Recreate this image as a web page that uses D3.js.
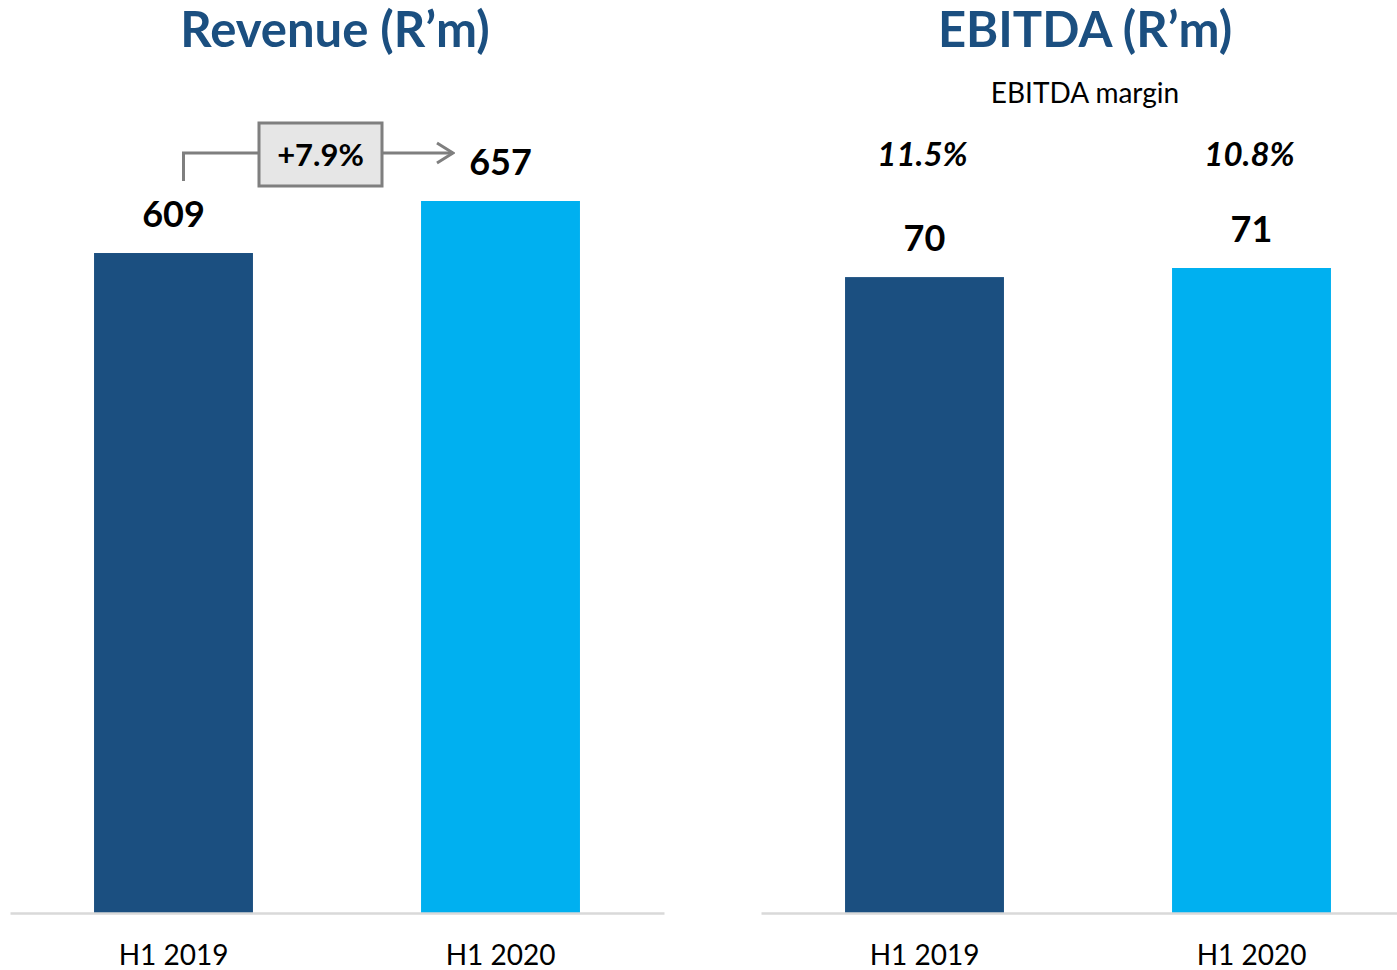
<!DOCTYPE html>
<html>
<head>
<meta charset="utf-8">
<script src="https://cdn.jsdelivr.net/npm/d3@7"></script>
<style>
  body { margin: 0; background: #fff; }
  text { font-family: Lato, "Open Sans", sans-serif; }
</style>
</head>
<body>
<div id="chart"></div>
<script>
// data
var periods = ["H1 2019", "H1 2020"];
var revenue = [609, 657];
var ebitda = [70, 71];
var ebitdaMargin = ["11.5%", "10.8%"];
var revenueGrowth = "+7.9%";
var barColors = ["#1b4f80", "#00b0f0"];

var svgWidth = 1397;
var svgHeight = 970;
var baseY = 913;

var svg = d3.select("#chart")
    .append("svg")
    .attr("width", svgWidth)
    .attr("height", svgHeight);

// arrow marker for growth annotation
svg.append("defs").append("marker")
    .attr("id", "arrow")
    .attr("viewBox", "0 0 20 24")
    .attr("refX", 18)
    .attr("refY", 12)
    .attr("markerWidth", 20)
    .attr("markerHeight", 24)
    .attr("markerUnits", "userSpaceOnUse")
    .attr("orient", "auto")
    .append("path")
    .attr("d", "M2,2 L18,12 L2,22")
    .attr("fill", "none")
    .attr("stroke", "#7f7f7f")
    .attr("stroke-width", 3);

function drawPanel(opts) {
    var x = d3.scaleBand()
        .domain(periods)
        .range(opts.xRange)
        .paddingInner(0.514)
        .paddingOuter(0.257);

    var y = d3.scaleLinear()
        .domain([0, opts.maxVal])
        .range([baseY, opts.maxTop]);

    var g = svg.append("g");

    g.selectAll("rect.bar")
        .data(opts.values)
        .enter()
        .append("rect")
        .attr("class", "bar")
        .attr("x", (d, i) => x(periods[i]))
        .attr("y", d => y(d))
        .attr("width", x.bandwidth())
        .attr("height", d => y(0) - y(d))
        .attr("fill", (d, i) => barColors[i]);

    // x axis
    var axis = g.append("g")
        .attr("transform", `translate(0, ${baseY})`)
        .call(d3.axisBottom(x).tickSize(0).tickPadding(0));
    axis.select(".domain")
        .attr("stroke", "#d9d9d9")
        .attr("stroke-width", 2.5);
    axis.selectAll(".tick text")
        .attr("y", 52)
        .attr("dy", 0)
        .style("font-family", "Lato, sans-serif")
        .style("font-size", "28px")
        .attr("fill", "#000");

    // value labels
    g.selectAll("text.val")
        .data(opts.values)
        .enter()
        .append("text")
        .attr("class", "val")
        .attr("x", (d, i) => x(periods[i]) + x.bandwidth() / 2)
        .attr("y", d => y(d) - 26)
        .attr("text-anchor", "middle")
        .style("font-size", "36px")
        .style("font-weight", "bold")
        .text(d => d);

    // title
    g.append("text")
        .attr("x", opts.titleX)
        .attr("y", 47)
        .attr("text-anchor", "middle")
        .style("font-size", "49px")
        .style("font-weight", "bold")
        .attr("fill", "#1b4f80")
        .text(opts.title);

    return { x: x, y: y, g: g };
}

var rev = drawPanel({
    values: revenue,
    xRange: [10, 664],
    maxVal: 657,
    maxTop: 201,
    title: "Revenue (R\u2019m)",
    titleX: 335
});

var ebt = drawPanel({
    values: ebitda,
    xRange: [761, 1415],
    maxVal: 71,
    maxTop: 268,
    title: "EBITDA (R\u2019m)",
    titleX: 1085
});

// growth annotation on revenue
var c0 = rev.x(periods[0]) + rev.x.bandwidth() / 2 + 10;
var lineY = 153;
var boxX = 259, boxW = 123, boxY = 123, boxH = 63;

rev.g.append("path")
    .attr("d", `M${c0},${rev.y(revenue[0]) - 72} V${lineY} H${boxX}`)
    .attr("fill", "none")
    .attr("stroke", "#7f7f7f")
    .attr("stroke-width", 3);

rev.g.append("path")
    .attr("d", `M${boxX + boxW},${lineY} H453`)
    .attr("fill", "none")
    .attr("stroke", "#7f7f7f")
    .attr("stroke-width", 3)
    .attr("marker-end", "url(#arrow)");

rev.g.append("rect")
    .attr("x", boxX)
    .attr("y", boxY)
    .attr("width", boxW)
    .attr("height", boxH)
    .attr("fill", "#e6e6e6")
    .attr("stroke", "#7f7f7f")
    .attr("stroke-width", 3);

rev.g.append("text")
    .attr("x", boxX + boxW / 2)
    .attr("y", 166)
    .attr("text-anchor", "middle")
    .style("font-size", "31px")
    .style("font-weight", "bold")
    .text(revenueGrowth);

// EBITDA margin labels
ebt.g.append("text")
    .attr("x", 1085)
    .attr("y", 103)
    .attr("text-anchor", "middle")
    .style("font-size", "28px")
    .text("EBITDA margin");

ebt.g.selectAll("text.margin")
    .data(ebitdaMargin)
    .enter()
    .append("text")
    .attr("class", "margin")
    .attr("x", (d, i) => ebt.x(periods[i]) + ebt.x.bandwidth() / 2 - 2)
    .attr("y", 166)
    .attr("text-anchor", "middle")
    .style("font-size", "33px")
    .style("font-weight", "bold")
    .style("font-style", "italic")
    .text(d => d);
</script>
</body>
</html>
